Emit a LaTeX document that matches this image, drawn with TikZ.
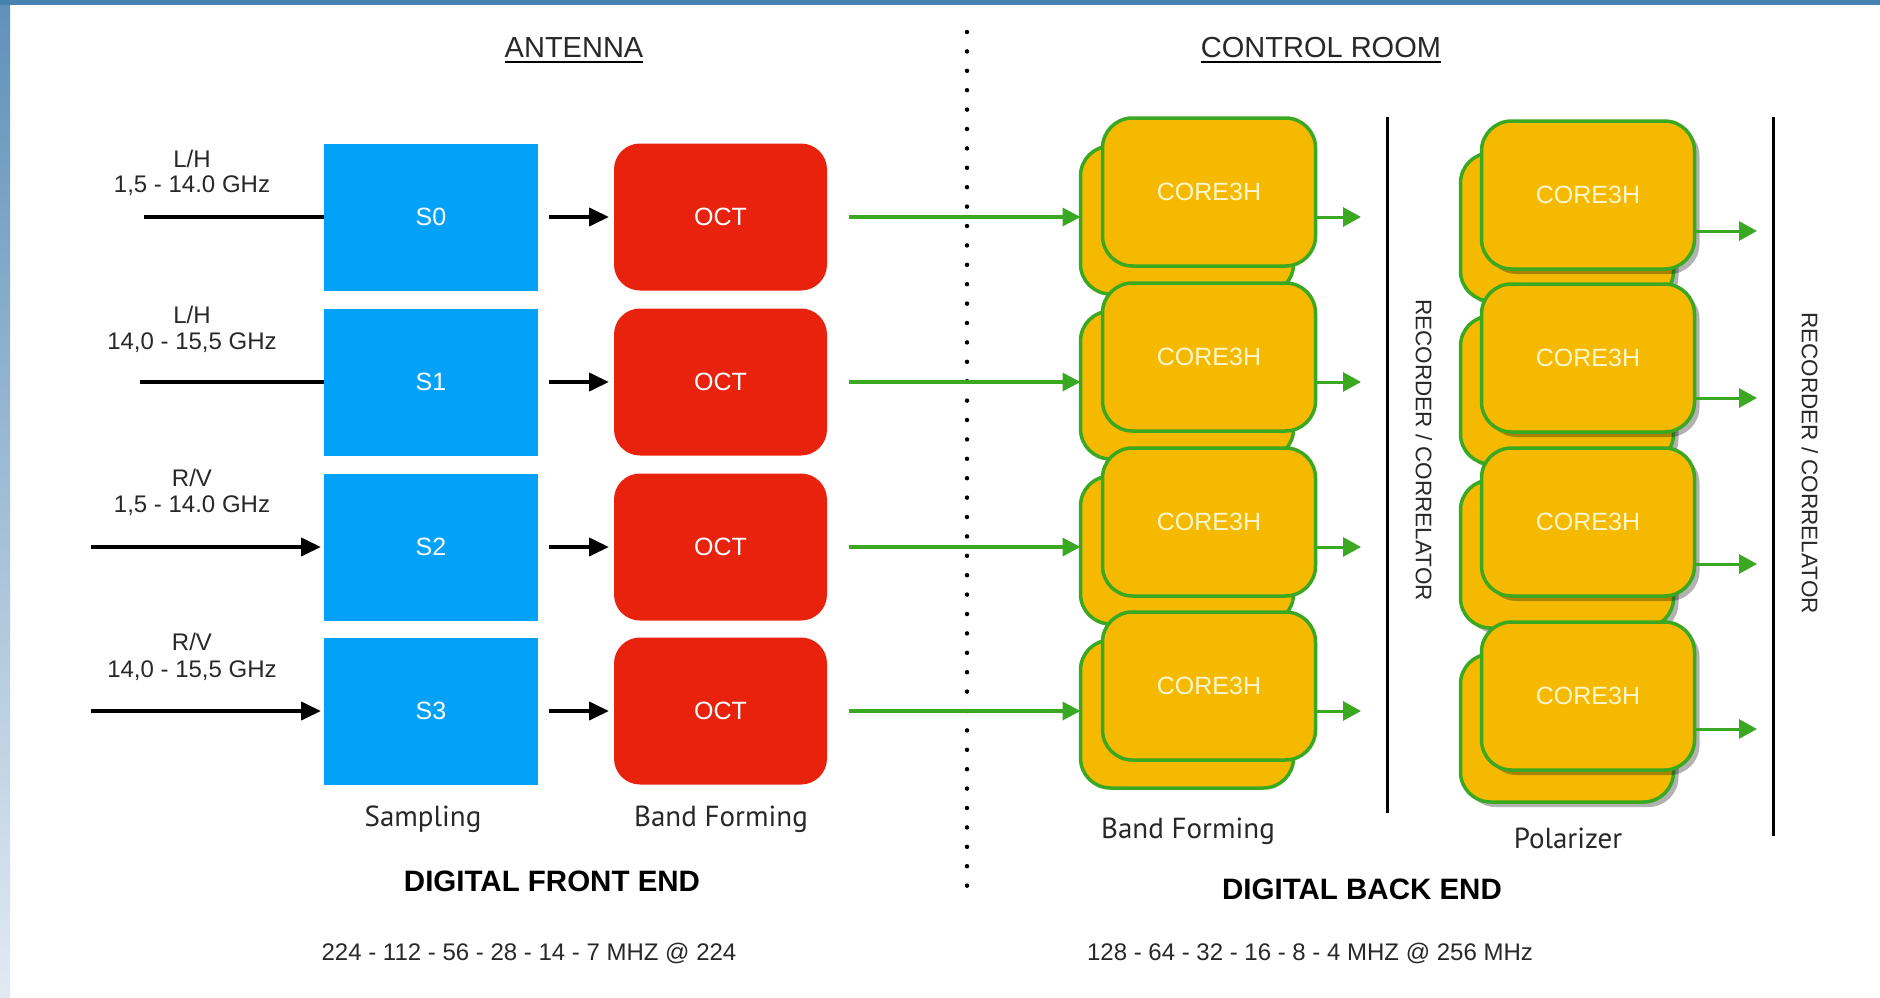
\documentclass[tikz,border=0pt]{standalone}
\usepackage{fontspec}
\setmainfont{Liberation Sans}
\newfontfamily\labelfont{PT Sans}
\usetikzlibrary{arrows.meta,shadows}
\definecolor{sblue}{RGB}{3,162,248}
\definecolor{ored}{RGB}{233,34,14}
\definecolor{cgold}{RGB}{245,186,0}
\definecolor{cgreen}{RGB}{58,168,32}
\definecolor{coretext}{RGB}{255,246,205}
\definecolor{bordertop}{RGB}{70,130,176}
\definecolor{borderleftA}{RGB}{95,145,185}
\definecolor{borderleftB}{RGB}{225,234,243}
\definecolor{txtgray}{RGB}{40,40,40}
\begin{document}
\begin{tikzpicture}[x=1pt,y=-1pt,
  every node/.style={inner sep=0pt,outer sep=0pt},
  sbox/.style={fill=sblue,minimum width=214pt,minimum height=147pt,text=white,font=\fontsize{25}{30}\selectfont},
  octbox/.style={fill=ored,rounded corners=26pt,minimum width=213pt,minimum height=147pt,text=white,font=\fontsize{25}{30}\selectfont},
  corebox/.style={fill=cgold,draw=cgreen,line width=3.5pt,rounded corners=30pt,minimum width=213pt,minimum height=148pt,text=coretext,font=\fontsize{25}{30}\selectfont},
  pshadow/.style={drop shadow={shadow xshift=5pt,shadow yshift=-5pt,opacity=0.3,fill=black}},
  inlabel/.style={align=center,text=txtgray,font=\fontsize{24}{27}\selectfont},
  header/.style={text=txtgray,font=\fontsize{29}{34}\selectfont},
  section/.style={text=black,font=\bfseries\fontsize{29.5}{34}\selectfont},
  stage/.style={text=txtgray,font=\labelfont\fontsize{29}{34}\selectfont},
  rate/.style={text=txtgray,font=\fontsize{24}{28}\selectfont},
  vlabel/.style={rotate=-90,text=txtgray,font=\fontsize{22.5}{26}\selectfont},
  blackline/.style={line width=4pt,draw=black},
  blackarrow/.style={line width=4pt,draw=black,-{Triangle[length=20pt,width=18pt]}},
  greenarrow/.style={line width=3.5pt,draw=cgreen,-{Triangle[length=18pt,width=18pt]}},
  greenout/.style={line width=3pt,draw=cgreen,-{Triangle[length=18pt,width=19pt]}},
  sepline/.style={line width=3pt,draw=black},
  dotline/.style={line width=4.5pt,line cap=round,dash pattern=on 0pt off 19.4pt,draw=black}
]
\useasboundingbox (0,0) rectangle (1880,998);
\fill[white] (0,0) rectangle (1880,998);
\shade[top color=borderleftA,bottom color=borderleftB] (0,0) rectangle (10,998);
\fill[bordertop] (0,0) rectangle (1880,5);

% headers
\node[header,anchor=base] (ant) at (574,58) {ANTENNA};
\draw[line width=2pt] ([yshift=-4pt]ant.base west) -- ([yshift=-4pt]ant.base east);
\node[header,anchor=base] (ctl) at (1321,58) {CONTROL ROOM};
\draw[line width=2pt] ([yshift=-4pt]ctl.base west) -- ([yshift=-4pt]ctl.base east);

% dotted separator
\coordinate (dtop) at (967,32);
\coordinate (dbot) at (967,888);
\draw[dotline] (dtop) -- (dbot);

% front end rows and band forming
\foreach \i/\y in {0/217,1/382,2/547,3/711}{
  \node[sbox] (s\i) at (431,\y) {S\i};
  \node[octbox] (o\i) at (720.5,\y) {OCT};
  \node[corebox] (bb\i) at (1187,\y+3) {};
  \node[corebox] (bf\i) at (1209,\y-25) {CORE3H};
  \draw[blackarrow,shorten <=11pt,shorten >=5pt] (s\i) -- (o\i);
  \draw[greenarrow,shorten <=22pt] (o\i) -- (bb\i.west |- o\i);
  \coordinate (bo\i) at (1361,\y);
  \draw[greenout] (bf\i.east |- bo\i) -- (bo\i);
}

% inputs
\coordinate (in0) at (144,217);
\coordinate (in1) at (140,382);
\coordinate (in2) at (91,547);
\coordinate (in3) at (91,711);
\draw[blackline] (in0) -- (s0.west |- in0);
\draw[blackline] (in1) -- (s1.west |- in1);
\draw[blackarrow,shorten >=3pt] (in2) -- (s2.west |- in2);
\draw[blackarrow,shorten >=3pt] (in3) -- (s3.west |- in3);

\node[inlabel,anchor=base] (l0a) at (192,167) {L/H};
\node[inlabel,anchor=base] (l0b) at (192,192) {1,5 - 14.0 GHz};
\node[inlabel,anchor=base] (l1a) at (192,323) {L/H};
\node[inlabel,anchor=base] (l1b) at (192,349) {14,0 - 15,5 GHz};
\node[inlabel,anchor=base] (l2a) at (192,486) {R/V};
\node[inlabel,anchor=base] (l2b) at (192,512) {1,5 - 14.0 GHz};
\node[inlabel,anchor=base] (l3a) at (192,650) {R/V};
\node[inlabel,anchor=base] (l3b) at (192,677) {14,0 - 15,5 GHz};

% recorder line 1
\coordinate (v1t) at (1387,117);
\coordinate (v1b) at (1387,813);
\draw[sepline] (v1t) -- (v1b);
\node[vlabel] (rec1) at (1424,450) {RECORDER / CORRELATOR};

% polarizer
\foreach \i/\y/\a in {0/195/231,1/358/398,2/522/564,3/696/729}{
  \node[corebox,pshadow] (pb\i) at (1567,\y+32) {};
  \node[corebox,pshadow] (pf\i) at (1588,\y) {CORE3H};
  \coordinate (po\i) at (1757,\a);
  \draw[greenout] (pf\i.east |- po\i) -- (po\i);
}

% recorder line 2
\coordinate (v2t) at (1773,117);
\coordinate (v2b) at (1773,836);
\draw[sepline] (v2t) -- (v2b);
\node[vlabel] (rec2) at (1810,463) {RECORDER / CORRELATOR};

% bottom labels
\node[stage,anchor=base] (lsamp) at (423,826) {Sampling};
\node[stage,anchor=base] (lbf1) at (721,826) {Band Forming};
\node[section,anchor=base] (dfe) at (552,891) {DIGITAL FRONT END};
\node[rate,anchor=base] (r1) at (529,960) {224 - 112 - 56 - 28 - 14 - 7 MHZ @ 224};
\node[stage,anchor=base] (lbf2) at (1188,838) {Band Forming};
\node[stage,anchor=base] (lpol) at (1568,848) {Polarizer};
\node[section,anchor=base] (dbe) at (1362,899) {DIGITAL BACK END};
\node[rate,anchor=base] (r2) at (1310,960) {128 - 64 - 32 - 16 - 8 - 4 MHZ @ 256 MHz};
\end{tikzpicture}
\end{document}
